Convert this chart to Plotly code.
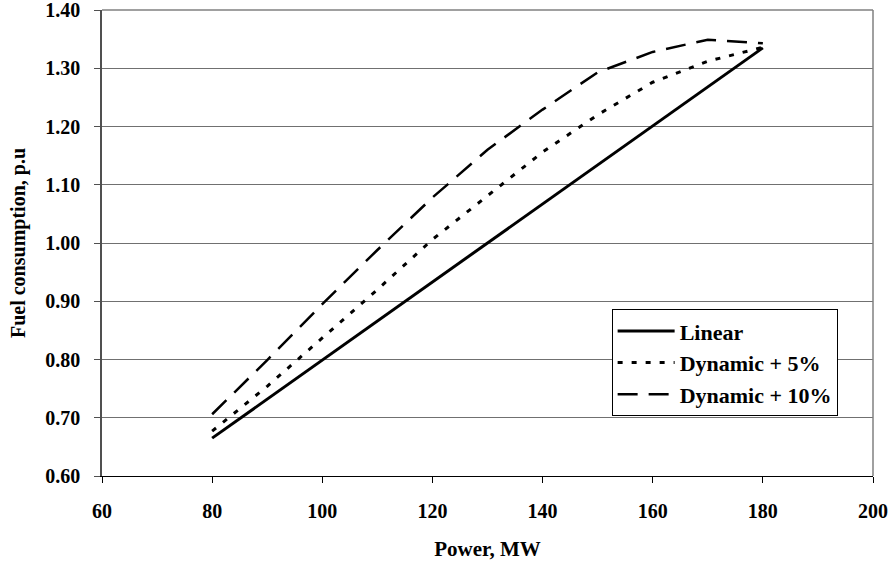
import plotly.graph_objects as go

power_mw = [80, 90, 100, 110, 120, 130, 140, 150, 160, 170, 180]
linear = [0.665, 0.732, 0.799, 0.866, 0.933, 1.000, 1.067, 1.134, 1.201, 1.268, 1.335]
dynamic_5 = [0.677, 0.754, 0.837, 0.920, 1.006, 1.081, 1.156, 1.220, 1.276, 1.312, 1.336]
dynamic_10 = [0.706, 0.799, 0.895, 0.988, 1.078, 1.160, 1.229, 1.293, 1.328, 1.349, 1.343]

x_ticks = [60, 80, 100, 120, 140, 160, 180, 200]
y_ticks = [0.60, 0.70, 0.80, 0.90, 1.00, 1.10, 1.20, 1.30, 1.40]

FONT = "Liberation Serif"

fig = go.Figure()
fig.add_trace(go.Scatter(x=power_mw, y=linear, mode="lines", name="<b>Linear</b>",
                         legendgroup="a", line=dict(color="black", width=3)))
fig.add_trace(go.Scatter(x=power_mw, y=dynamic_5, mode="lines", name="<b>Dynamic + 5%</b>",
                         legendgroup="b", line=dict(color="black", width=3, dash="5px,9px")))
fig.add_trace(go.Scatter(x=power_mw, y=dynamic_10, mode="lines", name="<b>Dynamic + 10%</b>",
                         legendgroup="c", line=dict(color="black", width=2.5, dash="20px,11px")))

fig.update_layout(
    width=892, height=566,
    margin=dict(l=102, r=19, t=10, b=90),
    paper_bgcolor="white", plot_bgcolor="white",
    font=dict(family=FONT, size=20, color="black"),
    showlegend=True,
    legend=dict(x=0.661, y=0.358, xanchor="left", yanchor="top",
                bgcolor="white", bordercolor="black", borderwidth=1,
                font=dict(family=FONT, size=22, color="black"),
                itemwidth=57, tracegroupgap=0),
    xaxis=dict(range=[60, 200], tickvals=x_ticks, ticktext=[f"<b>{v}</b>" for v in x_ticks],
               showgrid=False, zeroline=False, showline=True, linecolor="black", linewidth=1,
               ticks="outside", ticklen=6, tickcolor="black", automargin=False,
               ticklabelstandoff=11, ticklabeloverflow="allow",
               tickfont=dict(family=FONT, size=20, color="black"),
               title=dict(text="<b>Power, MW</b>", font=dict(family=FONT, size=21, color="black"), standoff=20)),
    yaxis=dict(range=[0.6, 1.4], tickvals=y_ticks, ticktext=[f"<b>{v:.2f}</b>" for v in y_ticks],
               showgrid=True, gridcolor="#707070", gridwidth=1, zeroline=False,
               showline=True, linecolor="#505050", linewidth=1.5,
               ticks="outside", ticklen=6, tickcolor="#505050", automargin=False,
               ticklabelstandoff=10, ticklabeloverflow="allow",
               tickfont=dict(family=FONT, size=20, color="black"),
               title=dict(text="<b>Fuel consumption, p.u</b>", font=dict(family=FONT, size=20, color="black"), standoff=14)),
)
fig.add_shape(type="line", xref="paper", yref="paper", x0=0, y0=1, x1=1, y1=1,
              line=dict(color="#808080", width=1.5), layer="above")
fig.add_shape(type="line", xref="paper", yref="paper", x0=1, y0=0, x1=1, y1=1,
              line=dict(color="#808080", width=1.5), layer="above")

fig.write_html("out.html", config={"displayModeBar": False},
               post_script="document.body.style.margin='0';")
